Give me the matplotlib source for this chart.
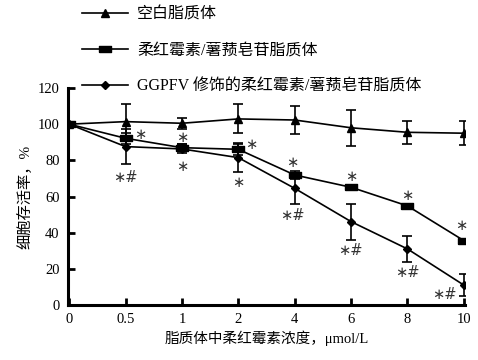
import numpy as np
import matplotlib
matplotlib.use("Agg")
import matplotlib.pyplot as plt

plt.rcParams['font.family'] = ['Liberation Serif', 'Noto Sans CJK SC']

x_labels = ['0', '0.5', '1', '2', '4', '6', '8', '10']

blank = [100, 101.4, 100.5, 102.9, 102.3, 98, 95.5, 95]
blank_err = [0, 9.5, 3, 8, 8, 10, 6.5, 6.5]

doxo = [100, 92.2, 87, 86.1, 71.9, 65.1, 54.8, 35.6]
doxo_err = [0, 3, 2, 3, 2, 0.8, 0.8, 0.8]

ggpfv = [100, 87.6, 86.3, 81.5, 64.5, 46.1, 31, 11]
ggpfv_err = [0, 9.5, 2.5, 8, 8.5, 10, 7, 6]

names = ['空白脂质体', '柔红霉素/薯蓣皂苷脂质体', 'GGPFV 修饰的柔红霉素/薯蓣皂苷脂质体']

# significance marks: (text, dx px, dy px)
doxo_marks = [None, ('∗', 15, 4), ('∗', 0, 10), ('∗', 13, 5), ('∗', -2, 12),
              ('∗', 0, 11), ('∗', 0, 10), ('∗', -3, 15)]
ggpfv_marks = [None, ('∗#', 0, -31), ('∗', 0, -18), ('∗', 0, -25), ('∗#', -2, -27),
               ('∗#', -1, -29), ('∗#', 0, -24), ('∗#', -20, -9)]

xs = np.arange(len(x_labels))

fig = plt.figure(figsize=(4.78, 3.6), dpi=100)
ax = fig.add_axes([68/478, 55/360, (465-68)/478, (305-88)/360])

rect = [(-1, -0.5), (1, -0.5), (1, 0.5), (-1, 0.5), (-1, -0.5)]
styles = [dict(marker='^', ms=6), dict(marker=rect, ms=8), dict(marker='D', ms=4.5)]
handles = []
for vals, errs, st, nm in zip([blank, doxo, ggpfv], [blank_err, doxo_err, ggpfv_err], styles, names):
    eb = ax.errorbar(xs, vals, yerr=errs, color='black', lw=1.2, capsize=3.5,
                     elinewidth=1.2, capthick=1.2, mec='black', mfc='black', label=nm, **st)
    handles.append(eb.lines[0])


def put_marks(vals, marks):
    for i, m in enumerate(marks):
        if m is None:
            continue
        txt, dx, dy = m
        ax.annotate(txt, (xs[i], vals[i]), xytext=(dx, dy), textcoords='offset pixels',
                    ha='center', va='center', fontsize=10.5, color='#333333',
                    family=['DejaVu Sans'])


put_marks(doxo, doxo_marks)
put_marks(ggpfv, ggpfv_marks)

ax.set_xlim(-0.02, 7.02)
ax.set_ylim(0, 120)
ax.set_xticks(xs)
ax.set_xticklabels(x_labels)
ax.set_yticks(np.arange(0, 121, 20))
for s in ['top', 'right']:
    ax.spines[s].set_visible(False)
for s in ['left', 'bottom']:
    ax.spines[s].set_linewidth(2.2)
ax.tick_params(direction='in', length=5, width=2, labelsize=10.5, pad=6)

ax.set_xlabel('脂质体中柔红霉素浓度，μmol/L', fontsize=10.5, labelpad=3)
ax.set_ylabel('细胞存活率，%', fontsize=11, labelpad=4)

fig.legend(handles=handles, labels=names, loc='upper left',
           bbox_to_anchor=(82/478, 1 - 7/360), frameon=False, fontsize=11.5,
           handlelength=2.9, handletextpad=0.55, labelspacing=1.25,
           borderpad=0, borderaxespad=0)

fig.savefig('out.png', dpi=100)
